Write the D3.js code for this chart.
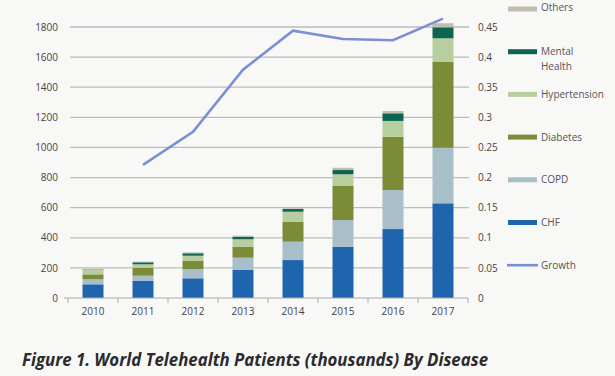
<!DOCTYPE html>
<html><head><meta charset="utf-8">
<script src="https://cdn.jsdelivr.net/npm/d3@7"></script>
<style>
html,body{margin:0;padding:0;background:#f8f8f6;}
svg{display:block;}
</style></head>
<body>
<svg id="chart" width="615" height="376"></svg>
<script>
const years = ['2010','2011','2012','2013','2014','2015','2016','2017'];
const chf = [91,113,131,186,252,341,458,629];
const copd = [33,35,62,82,122,177,259,369];
const diabetes = [33,53,53,73,133,226,354,572];
const hypertension = [29,23,35,49,66,78,105,155];
const mentalHealth = [3,13,16,17,18,28,51,73];
const others = [5,5,6,7,5,15,15,27];
const growth = [null,0.221,0.276,0.379,0.444,0.430,0.428,0.464];
const leftTicks = [0,200,400,600,800,1000,1200,1400,1600,1800];
const rightTicks = [0,0.05,0.1,0.15,0.2,0.25,0.3,0.35,0.4,0.45];
const seriesNames = ['CHF','COPD','Diabetes','Hypertension','Mental Health','Others'];
const seriesColors = ['#1f65ad','#a8bfc9','#7b8b36','#b7cf9f','#0c6550','#c3bdb0'];
const caption = 'Figure 1. World Telehealth Patients (thousands) By Disease';

const svg = d3.select('#chart');
svg.append('rect').attr('width',615).attr('height',376).attr('fill','#f8f8f6');

const x = d3.scaleBand().domain(years).range([68,468]).paddingInner(0.58).paddingOuter(0.29);
const y = d3.scaleLinear().domain([0,1800]).range([298,27]);
const y2 = d3.scaleLinear().domain([0,0.45]).range([298,27]);

// gridlines
svg.append('g').selectAll('line').data(leftTicks.filter(d=>d>0)).join('line')
  .attr('x1',70).attr('x2',469).attr('y1',d=>y(d)).attr('y2',d=>y(d))
  .attr('stroke','#bcbcbc').attr('stroke-width',1.3);

// left axis
const yAxis = d3.axisLeft(y).tickValues(leftTicks).tickSize(0).tickPadding(10).tickFormat(d=>String(d));
const gy = svg.append('g').attr('transform','translate(68,0)').call(yAxis);
gy.select('.domain').remove();
gy.selectAll('text').attr('font-family','Open Sans').attr('font-size',10).attr('fill','#444');

// right axis
const y2Axis = d3.axisRight(y2).tickValues(rightTicks).tickSize(0).tickPadding(10).tickFormat(d=>d===0?'0':String(+d.toFixed(2)));
const gy2 = svg.append('g').attr('transform','translate(468,0)').call(y2Axis);
gy2.select('.domain').remove();
gy2.selectAll('text').attr('font-family','Open Sans').attr('font-size',10).attr('fill','#444');

// stacked bars
const rows = years.map((yr,i)=>({year:yr,'CHF':chf[i],'COPD':copd[i],'Diabetes':diabetes[i],'Hypertension':hypertension[i],'Mental Health':mentalHealth[i],'Others':others[i]}));
const stack = d3.stack().keys(seriesNames)(rows);
svg.append('g').selectAll('g').data(stack).join('g')
  .attr('fill',(d,i)=>seriesColors[i])
  .selectAll('rect').data(d=>d).join('rect')
  .attr('x',d=>x(d.data.year)).attr('width',x.bandwidth())
  .attr('y',d=>y(d[1])).attr('height',d=>y(d[0])-y(d[1]));

// x axis
const xAxis = d3.axisBottom(x).tickSize(0).tickPadding(10);
const gx = svg.append('g').attr('transform','translate(0,298)').call(xAxis);
gx.select('.domain').attr('stroke','#aaa').attr('stroke-width',1.2).attr('d','M68,0H468');
gx.selectAll('text').attr('font-family','Open Sans').attr('font-size',10).attr('fill','#444');
const bounds = [x.range()[0]].concat(years.map(d=>x(d) + x.bandwidth() + (x.step()-x.bandwidth())/2));
svg.append('g').selectAll('line').data(bounds).join('line')
  .attr('x1',d=>d).attr('x2',d=>d).attr('y1',298).attr('y2',303)
  .attr('stroke','#aaa').attr('stroke-width',1);
svg.append('line').attr('x1',64).attr('x2',68).attr('y1',298).attr('y2',298).attr('stroke','#aaa');

// growth line
const line = d3.line().defined(d=>d.v!==null)
  .x(d=>x(d.year)+x.bandwidth()/2).y(d=>y2(d.v));
svg.append('path').datum(years.map((yr,i)=>({year:yr,v:growth[i]})))
  .attr('d',line).attr('fill','none').attr('stroke','#7b8fd2').attr('stroke-width',2.6);

// legend
const legendItems = [
  {name:'Others',color:seriesColors[5],type:'rect'},
  {name:'Mental Health',color:seriesColors[4],type:'rect'},
  {name:'Hypertension',color:seriesColors[3],type:'rect'},
  {name:'Diabetes',color:seriesColors[2],type:'rect'},
  {name:'COPD',color:seriesColors[1],type:'rect'},
  {name:'CHF',color:seriesColors[0],type:'rect'},
  {name:'Growth',color:'#7b8fd2',type:'line'}
];
const lg = svg.append('g');
legendItems.forEach((it,i)=>{
  const cy = 9 + i*42.7;
  if(it.type==='rect'){
    lg.append('rect').attr('x',508).attr('y',cy-2.5).attr('width',29).attr('height',5).attr('fill',it.color);
  } else {
    lg.append('line').attr('x1',507).attr('x2',538).attr('y1',cy).attr('y2',cy).attr('stroke',it.color).attr('stroke-width',2.6);
  }
  const words = it.name==='Mental Health' ? ['Mental','Health'] : [it.name];
  words.forEach((w,j)=>{
    lg.append('text').attr('x',541).attr('y',cy+3.5+j*15 - (i===0?2:0)).text(w)
      .attr('font-family','Open Sans').attr('font-size',10).attr('fill','#555');
  });
});

// caption
svg.append('text').attr('x',22).attr('y',366).text(caption)
  .attr('font-family','Open Sans').attr('font-style','italic').attr('font-weight',700)
  .attr('font-size',17).attr('fill','#2b2b2b')
  .attr('textLength',466).attr('lengthAdjust','spacingAndGlyphs');
</script>
</body></html>
